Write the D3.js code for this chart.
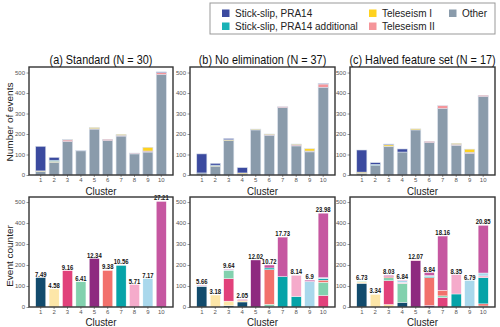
<!DOCTYPE html>
<html><head><meta charset="utf-8">
<script src="https://cdn.jsdelivr.net/npm/d3@7"></script>
<style>
body{margin:0;background:#fff;}
text{font-family:"Liberation Sans",Arial,sans-serif;}
</style></head>
<body><svg id="c" width="500" height="327"></svg>
<script>
// ---------- DATA ----------
const clusters = [1,2,3,4,5,6,7,8,9,10];
const yTicks = [0,100,200,300,400,500];
const titles = ["(a) Standard (N = 30)", "(b) No elimination (N = 37)", "(c) Halved feature set (N = 17)"];
const categories = ["Stick-slip, PRA14","Stick-slip, PRA14 additional","Teleseism I","Teleseism II","Other"];
const categoryColors = ["#3b4a9f","#19b2b6","#ffd21f","#f5959a","#8a9bab"];
// top panels: events per class (stack order bottom->top: Other, Teleseism II, Teleseism I, additional, PRA14)
const otherA = [17,62,163,118,224,168,190,103,112,490];
const tele2A = [0,0,8,0,2,6,4,4,5,10];
const tele1A = [3,5,2,0,5,0,4,0,18,0];
const addA   = [0,5,0,0,0,0,0,0,0,0];
const praA   = [120,14,0,2,0,0,0,0,0,3];
const otherB = [10,43,168,5,220,194,329,142,113,428];
const tele2B = [0,0,0,0,0,4,4,5,4,16];
const tele1B = [0,3,4,5,4,2,0,4,11,0];
const addB   = [0,2,0,0,0,0,0,0,0,0];
const praB   = [93,9,6,26,0,0,0,0,0,3];
const otherC = [8,48,138,112,220,158,324,145,105,383];
const tele2C = [0,0,2,0,0,6,14,5,6,6];
const tele1C = [6,0,7,0,5,0,0,4,15,0];
const addC   = [0,4,0,0,0,0,0,0,0,0];
const praC   = [108,8,4,15,0,0,0,0,0,0];
// bottom panels: event counter, composition by reference (a) cluster colours
const refColors = ["#124b6d","#fde6a8","#e1417b","#82d1ae","#8e2a80","#f2716c","#06a3a8","#f5abcb","#a9d8ec","#c657a1"];
const compA = [
 [140,0,0,0,0,0,0,0,0,0],[0,86,0,0,0,0,0,0,0,0],[0,0,173,0,0,0,0,0,0,0],[0,0,0,120,0,0,0,0,0,0],
 [0,0,0,0,231,0,0,0,0,0],[0,0,0,0,0,174,0,0,0,0],[0,0,0,0,0,0,198,0,0,0],[0,0,0,0,0,0,0,107,0,0],
 [0,0,0,0,0,0,0,0,135,0],[0,0,0,0,0,0,0,0,0,503]];
const compB = [
 [98,0,0,0,0,0,0,0,3,2],[0,57,0,0,0,0,0,0,0,0],[6,22,107,40,0,0,0,0,3,2],[24,6,3,0,0,0,0,0,0,3],
 [0,0,0,0,224,0,0,0,0,0],[3,0,0,10,0,165,8,0,0,14],[0,0,0,0,0,0,145,0,0,188],[0,0,0,0,0,0,50,101,0,0],
 [0,0,0,0,0,0,0,0,122,6],[0,0,55,63,0,10,7,0,5,307]];
const compC = [
 [113,6,0,3,0,0,0,0,0,0],[0,60,0,0,0,0,0,0,0,0],[0,12,113,14,0,5,0,0,0,7],[22,0,0,90,0,0,0,5,8,2],
 [0,0,0,0,221,0,0,4,0,0],[0,0,0,0,8,132,6,0,4,14],[0,0,45,8,0,27,0,0,0,258],[0,0,0,0,0,0,62,92,0,0],
 [0,0,3,0,0,0,0,0,123,0],[0,0,0,5,0,10,125,8,14,227]];
const labelsA = ["7.49","4.58","9.16","6.41","12.34","9.38","10.56","5.71","7.17","27.21"];
const labelsB = ["5.66","3.18","9.64","2.05","12.02","10.72","17.73","8.14","6.9","23.98"];
const labelsC = ["6.73","3.34","8.03","6.84","12.07","8.84","18.16","8.35","6.79","20.85"];

// ---------- DRAW ----------
const svg = d3.select("#c");
const panelsX = [[29,173],[190,335],[350,495]];
const topSeries = [[otherA,tele2A,tele1A,addA,praA],[otherB,tele2B,tele1B,addB,praB],[otherC,tele2C,tele1C,addC,praC]];
const stackOrder = [4,3,2,1,0]; // category indices bottom->top
const comps = [compA,compB,compC];
const labels = [labelsA,labelsB,labelsC];

function ntext(g, x, y, str, size, sx, opts={}){
  const t = g.append("text").attr("transform",`translate(${x},${y}) scale(${sx},1)`)
    .attr("text-anchor",opts.anchor||"middle").style("font-size",size+"px")
    .attr("fill",opts.fill||"#222").text(str);
  if(opts.bold) t.style("font-weight","bold");
  return t;
}
function frame(g, x0, x1, yTop, yBot){
  g.append("rect").attr("x",x0).attr("y",yTop).attr("width",x1-x0).attr("height",yBot-yTop)
   .attr("fill","none").attr("stroke","#333").attr("stroke-width",1.4);
}
function axes(g, x, y, yBot, x0){
  const xa = g.append("g").attr("transform",`translate(0,${yBot})`)
    .call(d3.axisBottom(x).tickSize(2).tickPadding(1));
  const ya = g.append("g").attr("transform",`translate(${x0},0)`)
    .call(d3.axisLeft(y).tickValues(yTicks).tickSize(2.5).tickPadding(1.5));
  [xa,ya].forEach(a=>{
    a.select(".domain").remove();
    a.selectAll("line").attr("stroke","#666").attr("stroke-width",0.7);
    a.selectAll("text").attr("fill","#555").style("font-size","6px");
  });
}

panelsX.forEach(([x0,x1],p)=>{
  const x = d3.scaleBand().domain(clusters).range([x0,x1]).paddingInner(0.25).paddingOuter(0.5);
  // ----- top -----
  const yT = d3.scaleLinear().domain([0,527]).range([175,67]);
  const gT = svg.append("g");
  const rows = clusters.map((c,i)=>{ const r={c}; stackOrder.forEach((k,j)=>r[k]=topSeries[p][j][i]); return r;});
  const stT = d3.stack().keys(stackOrder)(rows);
  stT.forEach(layer=>{
    gT.selectAll(null).data(layer).join("rect")
      .attr("x",d=>x(d.data.c)).attr("width",x.bandwidth())
      .attr("y",d=>yT(d[1])).attr("height",d=>Math.max(0,yT(d[0])-yT(d[1])))
      .attr("fill",categoryColors[layer.key]).attr("stroke","#d7deea").attr("stroke-width",0.6);
  });
  axes(gT,x,yT,175,x0);
  frame(gT,x0,x1,67,175);
  ntext(gT,(x0+x1)/2,64,titles[p],13,0.835,{fill:"#111"});
  ntext(gT,(x0+x1)/2,194.5,"Cluster",11.5,0.85);
  // ----- bottom -----
  const yB = d3.scaleLinear().domain([0,524]).range([307,197]);
  const gB = svg.append("g");
  const keys = d3.range(10);
  const rowsB = clusters.map((c,i)=>{ const r={c}; keys.forEach(k=>r[k]=comps[p][i][k]); return r;});
  const stB = d3.stack().keys(keys)(rowsB);
  stB.forEach(layer=>{
    gB.selectAll(null).data(layer.filter(d=>d[1]>d[0])).join("rect")
      .attr("x",d=>x(d.data.c)).attr("width",x.bandwidth())
      .attr("y",d=>yB(d[1])).attr("height",d=>yB(d[0])-yB(d[1]))
      .attr("fill",refColors[layer.key]).attr("stroke","#fff").attr("stroke-width",0.4);
  });
  const totals = comps[p].map(r=>d3.sum(r));
  clusters.forEach((c,i)=>{
    ntext(gB, x(c)+x.bandwidth()/2, yB(totals[i])-1, labels[p][i], 7.2, 0.82, {bold:true, fill:"#111"});
  });
  axes(gB,x,yB,307,x0);
  frame(gB,x0,x1,197,307);
  ntext(gB,(x0+x1)/2,325.5,"Cluster",11.5,0.85);
});

// y labels (rotated, glyphs thinned horizontally)
svg.append("text").attr("transform","translate(12.5,122) rotate(-90) scale(1,0.85)").attr("text-anchor","middle")
  .style("font-size","10px").attr("fill","#222").text("Number of events");
svg.append("text").attr("transform","translate(12.5,256) rotate(-90) scale(1,0.85)").attr("text-anchor","middle")
  .style("font-size","10px").attr("fill","#222").text("Event counter");

// legend
const lg = svg.append("g");
lg.append("rect").attr("x",210).attr("y",3).attr("width",285).attr("height",31)
  .attr("fill","#fff").attr("stroke","#999").attr("stroke-width",1);
const legPos = [[222,13],[222,26],[369,13],[369,26],[449,13]];
lg.selectAll(null).data(categories).join("rect")
  .attr("x",(d,i)=>legPos[i][0]).attr("y",(d,i)=>legPos[i][1]-3.5).attr("width",7.5).attr("height",7.5)
  .attr("fill",(d,i)=>categoryColors[i]);
lg.selectAll(null).data(categories).join("text")
  .attr("x",(d,i)=>legPos[i][0]+13).attr("y",(d,i)=>legPos[i][1]+3.5)
  .style("font-size","10px").attr("fill","#222").text(d=>d);
</script></body></html>
